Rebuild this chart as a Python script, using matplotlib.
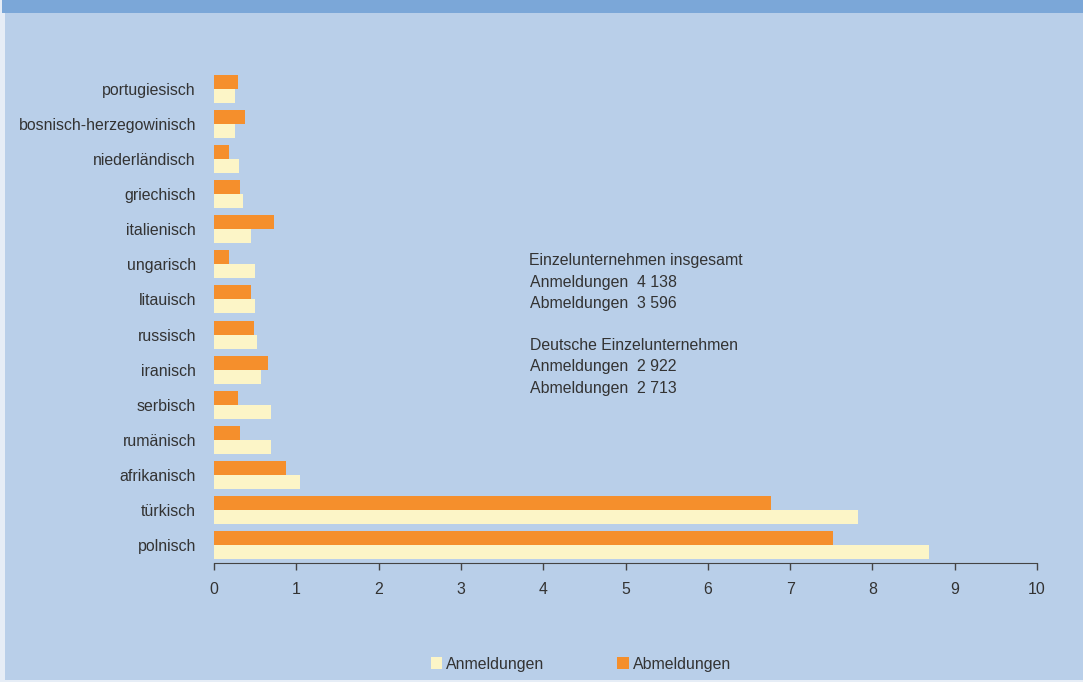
import matplotlib
matplotlib.use("Agg")
import matplotlib.pyplot as plt
from matplotlib.patches import Rectangle
import numpy as np

categories = ["polnisch", "türkisch", "afrikanisch", "rumänisch", "serbisch", "iranisch",
              "russisch", "litauisch", "ungarisch", "italienisch", "griechisch",
              "niederländisch", "bosnisch-herzegowinisch", "portugiesisch"]
anmeldungen = [8.69, 7.82, 1.05, 0.69, 0.69, 0.57, 0.52, 0.50, 0.50, 0.45, 0.35, 0.30, 0.255, 0.255]
abmeldungen = [7.52, 6.77, 0.875, 0.32, 0.29, 0.66, 0.49, 0.45, 0.18, 0.73, 0.32, 0.18, 0.38, 0.29]
xticks = list(range(0, 11))
info_lines = ["Einzelunternehmen insgesamt", "Anmeldungen  4 138", "Abmeldungen  3 596", "",
              "Deutsche Einzelunternehmen", "Anmeldungen  2 922", "Abmeldungen  2 713"]

plt.rcParams['font.family'] = ['Liberation Sans', 'DejaVu Sans']
FS = 11.4
W, H = 1083, 682
fig = plt.figure(figsize=(W / 100, H / 100), dpi=100)
fig.patch.set_facecolor("#e6edf6")
bg = "#b9cfe9"
fig.patches.append(Rectangle((5 / W, 2 / H), 1 - 5 / W, 1 - 2 / H, transform=fig.transFigure,
                             facecolor=bg, edgecolor="none", zorder=-2))
fig.patches.append(Rectangle((2 / W, 1 - 13 / H), 1 - 2 / W, 13 / H, transform=fig.transFigure,
                             facecolor="#7ba7d8", edgecolor="none", zorder=-1))

ax = fig.add_axes([214 / W, 1 - 563 / H, (1037 - 214) / W, (563 - 71) / H])
ax.set_facecolor("none")
y = np.arange(len(categories))
h = 0.4
tc = "#333333"
ax.barh(y - h / 2, anmeldungen, height=h, color="#fcf5c7", label="Anmeldungen")
ax.barh(y + h / 2, abmeldungen, height=h, color="#f58f2c", label="Abmeldungen")
ax.set_ylim(-0.5, 13.5)
ax.set_xlim(0, 10)
ax.set_yticks(y)
ax.set_yticklabels(categories, fontsize=FS, color=tc)
ax.tick_params(axis="y", length=0, pad=13)
ax.set_xticks(xticks)
ax.set_xticklabels([str(t) for t in xticks], fontsize=FS, color=tc)
ax.tick_params(axis="x", length=5, width=1, color="#444444", pad=9)
for s in ["top", "right", "left"]:
    ax.spines[s].set_visible(False)
ax.spines["bottom"].set_color("#444444")

ys = [260, 282, 303, 324, 345, 367, 388]
for i, (line, yy) in enumerate(zip(info_lines, ys)):
    if line:
        fig.text((529 if i == 0 else 530) / W, 1 - yy / H, line, fontsize=FS, color=tc,
                 ha="left", va="center")

leg = fig.legend(loc="center", bbox_to_anchor=(581 / W, 1 - 664 / H), ncol=2, frameon=False,
                 fontsize=FS, handlelength=0.7, handleheight=0.7, handletextpad=0.3,
                 columnspacing=4.6, labelcolor=tc)

fig.savefig("out.png", dpi=100, facecolor=fig.get_facecolor())
